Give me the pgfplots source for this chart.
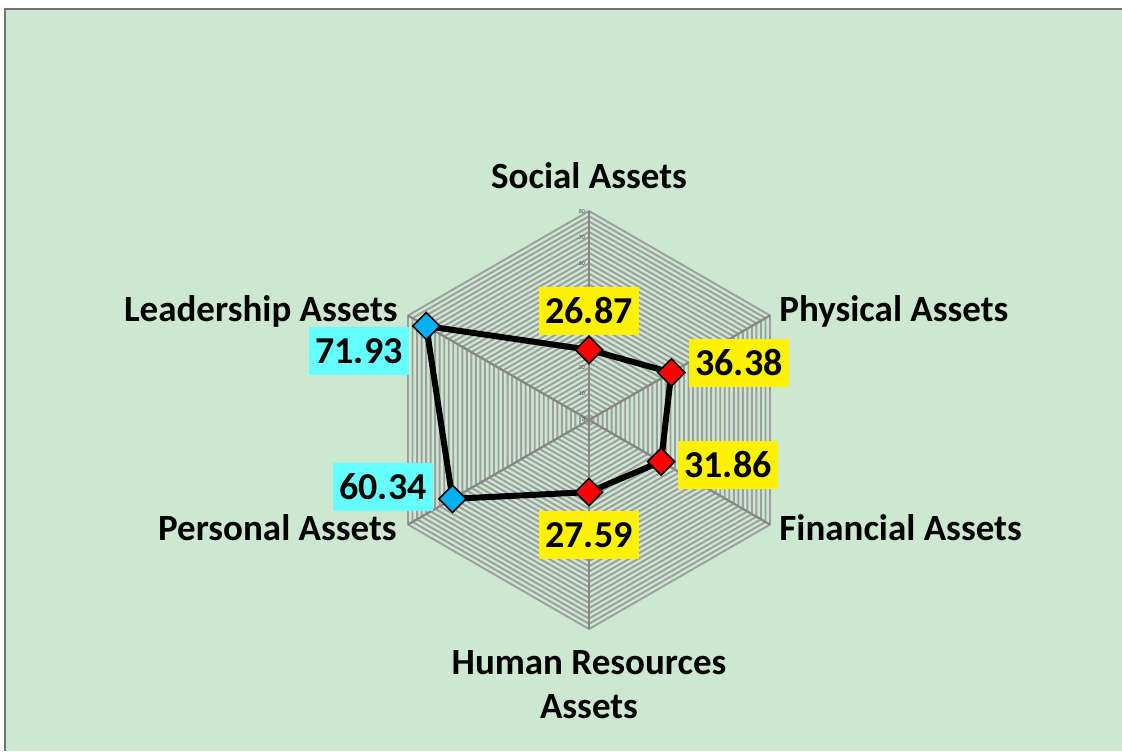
\documentclass[border=0pt]{standalone}
\usepackage{pgfplots}
\pgfplotsset{compat=1.18}
\usepackage{fontspec}
\setmainfont{Carlito}
\definecolor{bg}{RGB}{204,232,208}
\definecolor{gridc}{RGB}{158,158,158}
\definecolor{lblcyan}{RGB}{102,255,255}
\definecolor{mblue}{RGB}{0,176,240}
\begin{document}
\begin{tikzpicture}
\useasboundingbox (0,0) rectangle (561pt,-375.5pt);
\fill[white] (0,0) rectangle (561pt,-375.5pt);
\fill[bg] (2.5pt,-4.5pt) rectangle (561pt,-375.5pt);
\draw[gray!90!black, line width=1pt] (2.5pt,-375.5pt) -- (2.5pt,-4.5pt) -- (561pt,-4.5pt);
\begin{axis}[
  at={(294.5pt,-210pt)}, anchor=center,
  x=1.30625pt, y=1.30625pt,
  xmin=-80, xmax=80, ymin=-80, ymax=80,
  hide axis, clip=false,
]
% hexagonal grid rings
\pgfplotsinvokeforeach{2,4,...,80}{
  \addplot[gridc, line width=0.95pt, no markers, data cs=polar]
    coordinates {(90,#1) (30,#1) (-30,#1) (-90,#1) (-150,#1) (150,#1) (90,#1)};
}
% spokes
\pgfplotsinvokeforeach{90,30,-30,-90,-150,150}{
  \addplot[gridc!85!black, line width=1.1pt, no markers, data cs=polar]
    coordinates {(0,0) (#1,80)};
}
% tick labels (40 is hidden behind a data label in the reference)
\pgfplotsinvokeforeach{0,10,20,30,50,60,70,80}{
  \node[font=\fontsize{3}{3}\selectfont, text=black!70, anchor=east, inner sep=0.5pt] at (axis cs:-1,#1) {#1};
}
% data line
\addplot[black, line width=3pt, no markers, data cs=polar, line join=round]
  coordinates {(90,26.87) (30,36.38) (-30,31.86) (-90,27.59) (-150,60.34) (150,71.93) (90,26.87)};
\addplot[only marks, data cs=polar, mark=square*, mark size=4.8pt,
  mark options={rotate=45, fill=red, draw=black, line width=0.8pt}]
  coordinates {(90,26.87) (30,36.38) (-30,31.86) (-90,27.59)};
\addplot[only marks, data cs=polar, mark=square*, mark size=4.8pt,
  mark options={rotate=45, fill=mblue, draw=black, line width=0.8pt}]
  coordinates {(-150,60.34) (150,71.93)};
\end{axis}
% data labels
\tikzset{dl/.style={font=\fontsize{19}{22}\selectfont\bfseries, minimum width=50pt, minimum height=24pt, inner sep=2pt}}
\node[dl, fill=yellow] at (294.5pt,-155.5pt) {26.87};
\node[dl, fill=yellow] at (369.5pt,-181.5pt) {36.38};
\node[dl, fill=yellow] at (364pt,-232.5pt) {31.86};
\node[dl, fill=yellow] at (294.5pt,-267.5pt) {27.59};
\node[dl, fill=lblcyan] at (191.5pt,-243.5pt) {60.34};
\node[dl, fill=lblcyan] at (179.5pt,-175.5pt) {71.93};
% category labels
\tikzset{cl/.style={font=\fontsize{18.5}{22}\selectfont\bfseries, inner sep=0pt, align=center}}
\node[cl] at (294.5pt,-88pt) {Social Assets};
\node[cl, anchor=west] at (389.5pt,-155.5pt) {Physical Assets};
\node[cl, anchor=west] at (389.5pt,-264pt) {Financial Assets};
\node[cl] at (294.5pt,-342.5pt) {Human Resources\\Assets};
\node[cl, anchor=east] at (198.5pt,-264pt) {Personal Assets};
\node[cl, anchor=east] at (199pt,-155.5pt) {Leadership Assets};
\end{tikzpicture}
\end{document}
